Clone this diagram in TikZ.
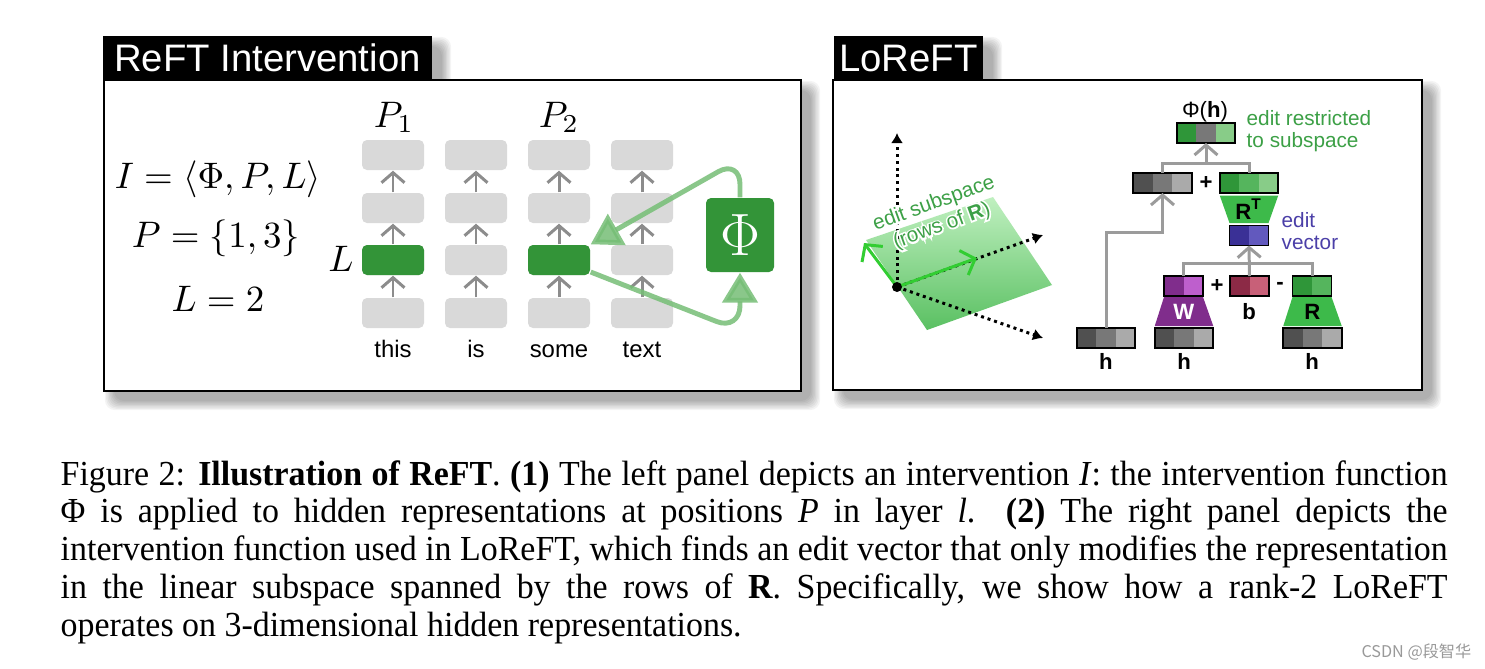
\documentclass[tikz,border=0pt]{standalone}
\usepackage{fix-cm}
\usepackage[no-math]{fontspec}
\setmainfont{Liberation Serif}
\newfontfamily\capfont[FakeStretch=0.965]{Liberation Serif}
\newfontfamily\panelfont{Liberation Sans}
\newfontfamily\cjkfont{Noto Sans CJK SC}
\usepackage{amsmath}
\usepackage{amssymb}
\usepackage{tikz}
\usetikzlibrary{arrows.meta,shapes,positioning,calc}
\usepackage{xcolor}
\definecolor{rfgreen}{RGB}{51,148,56}
\definecolor{rflight}{RGB}{217,217,217}
\definecolor{rfgray}{RGB}{140,140,140}
\definecolor{rffeed}{RGB}{118,190,118}
\definecolor{lrline}{RGB}{155,155,155}
\definecolor{lrdgreen}{RGB}{47,150,57}
\definecolor{lrmgreen}{RGB}{85,181,93}
\definecolor{lrlgreen}{RGB}{136,204,136}
\definecolor{lrbright}{RGB}{61,186,74}
\definecolor{lrdgray}{RGB}{80,80,80}
\definecolor{lrmgray}{RGB}{120,120,120}
\definecolor{lrlgray}{RGB}{170,170,170}
\definecolor{lrnavy}{RGB}{58,48,150}
\definecolor{lrblue}{RGB}{98,89,190}
\definecolor{lrpurple}{RGB}{128,45,140}
\definecolor{lrlilac}{RGB}{190,95,205}
\definecolor{lrwine}{RGB}{140,42,70}
\definecolor{lrpink}{RGB}{200,96,120}
\definecolor{lrtext}{RGB}{60,160,70}
\definecolor{lrindigo}{RGB}{75,63,168}
\definecolor{lrarrow}{RGB}{50,205,50}
\definecolor{planetop}{RGB}{192,240,192}
\definecolor{planebot}{RGB}{90,192,98}
\tikzstyle{titlebox} = [rectangle, fill=black, text=white, inner sep=0, minimum height=4.4mm, font=\panelfont\fontsize{10.9}{12}\selectfont]
\tikzstyle{panel} = [rectangle, draw=black, fill=white, line width=0.6pt, inner sep=0]
\tikzstyle{tokbox} = [rectangle, rounded corners=0.5mm, fill=rflight, minimum width=6.2mm, minimum height=3mm, inner sep=0]
\tikzstyle{hotbox} = [tokbox, fill=rfgreen]
\tikzstyle{uparrow} = [draw=rfgray, line width=0.85pt, -{Straight Barb[length=1mm,width=2.3mm]}]
\tikzstyle{feed} = [draw=rffeed, opacity=0.85, line width=1.4pt, rounded corners=2.5mm, -{Triangle[length=3mm,width=3.5mm]}]
\tikzstyle{mathlab} = [font=\fontsize{10.5}{12}\selectfont, inner sep=0, anchor=base]
\tikzstyle{word} = [font=\panelfont\fontsize{6.8}{8}\selectfont, inner sep=0, anchor=base]
\tikzstyle{phibox} = [rectangle, rounded corners=0.5mm, fill=rfgreen, minimum width=6.8mm, minimum height=7.4mm, text=white, font=\fontsize{17}{17}\selectfont]
\tikzstyle{hvec} = [rectangle, draw=black, line width=0.45pt, minimum height=2mm, inner sep=0, outer sep=0]
\tikzstyle{flow} = [draw=lrline, line width=0.85pt]
\tikzstyle{flowarrow} = [flow, -{Straight Barb[length=1mm,width=2.3mm]}]
\tikzstyle{vlab} = [font=\panelfont\bfseries\fontsize{6.3}{7}\selectfont, inner sep=0]
\tikzstyle{vtext} = [font=\panelfont\fontsize{6.3}{7}\selectfont, inner sep=0]
\tikzstyle{note} = [font=\panelfont\fontsize{5.9}{6.3}\selectfont, align=left, inner sep=0, anchor=west]
\tikzstyle{axisarrow} = [line width=0.85pt, dash pattern=on 0.85pt off 1.1pt, -{Latex[length=1mm,width=1.2mm]}]
\tikzstyle{spanarrow} = [draw=lrarrow, line width=0.85pt, -{Straight Barb[length=1.2mm,width=2.6mm]}]
\tikzstyle{caption} = [anchor=base west, text width=138.7mm, align=justify, inner sep=0, font=\capfont\fontsize{10}{10.8}\selectfont]
\tikzset{
  vec3/.style n args={3}{hvec, minimum width=5.85mm, path picture={
      \fill[#1] (path picture bounding box.south west) rectangle ++(1.95mm,2mm);
      \fill[#2] ([xshift=1.95mm]path picture bounding box.south west) rectangle ++(1.95mm,2mm);
      \fill[#3] ([xshift=3.9mm]path picture bounding box.south west) rectangle ++(1.95mm,2mm);}},
  vec2/.style 2 args={hvec, minimum width=3.9mm, path picture={
      \fill[#1] (path picture bounding box.south west) rectangle ++(1.95mm,2mm);
      \fill[#2] ([xshift=1.95mm]path picture bounding box.south west) rectangle ++(1.95mm,2mm);}}
}
% blurred shadow, corners given in picture units
\newcommand{\softshadow}[4]{%
  \foreach \e in {0,...,7}
    \fill[black, opacity=0.045, rounded corners=1mm] (#1+10-\e*1.3, #2+10-\e*1.3) rectangle (#3+10+\e*1.3, #4+10+\e*1.3);
}
% white outline round a text line
\newcommand{\halo}[1]{\rlap{\color{white}\addfontfeature{FakeBold=16}#1}#1}

\begin{document}
\begin{tikzpicture}[x=0.1mm, y=-0.1mm]
\fill[white] (0,0) rectangle (1485,668);
\useasboundingbox (0,0) rectangle (1485,668);

% shadows
\softshadow{104}{80}{801}{391}
\softshadow{833}{80}{1422}{390}
\softshadow{103}{36}{432}{80}
\softshadow{834}{36}{983}{80}

% panels and titles
\node[panel, minimum width=69.7mm, minimum height=31.1mm] (leftpanel) at (452.5,235.5) {};
\node[panel, minimum width=58.9mm, minimum height=31mm] (rightpanel) at (1127.5,235) {};
\node[titlebox, minimum width=32.9mm] (lefttitle) at (267.5,58) {ReFT Intervention};
\node[titlebox, minimum width=14.9mm] (righttitle) at (908.5,58) {LoReFT};

% ---- ReFT intervention ----
\node[mathlab] (eqI) at (218,188) {$I = \langle \Phi, P, L \rangle$};
\node[mathlab] (eqP) at (216,247) {$P = \{1, 3\}$};
\node[mathlab] (eqL) at (218,311) {$L = 2$};

% token columns
\foreach \x/\w [count=\i] in {393/this,476/is,559/some,642/text}{
  \foreach \y [count=\j] in {313,260,208,155}
    \node[tokbox] (t\i\j) at (\x,\y) {};
  \node[word] (w\i) at (\x,357) {\w};
}
\foreach \i in {1,...,4}
  \foreach \j/\k in {1/2,2/3,3/4}
    \draw[uparrow] (t\i\j.north) -- (t\i\k.south);
\node[hotbox] (hot1) at (t12) {};
\node[hotbox] (hot3) at (t32) {};

\node[mathlab] (p1) at (394,127) {$P_1$};
\node[mathlab] (p2) at (559,127) {$P_2$};
\node[mathlab] (lay) at (341,271) {$L$};

% intervention function
\node[phibox] (phi) at (740,235) {$\Phi$};
\coordinate (lowturn) at ($(phi.south)+(0,58)$);
\coordinate (highturn) at ($(phi.north)+(0,-38)$);
\draw[feed] ([yshift=-1.2mm]hot3.east) -- (lowturn) -- (phi.south);
\draw[feed] (phi.north) -- (highturn) -- (hot3.north east);

% ---- LoReFT ----
% subspace picture
\coordinate (org) at (897,287);
\coordinate (pa) at (866,240);
\coordinate (pb) at (993,197);
\coordinate (pc) at (1052,285);
\coordinate (pd) at (927,330);
\shade[top color=planetop, bottom color=planebot] (pa) -- (pb) -- (pc) -- (pd) -- cycle;
\coordinate (axup) at (897,133);
\coordinate (axright) at (1043,235);
\coordinate (axdown) at (1043,338);
\draw[axisarrow] (org) -- (axup);
\draw[axisarrow] (org) -- (axright);
\draw[axisarrow] (org) -- (axdown);
\coordinate (spanup) at (864,243);
\coordinate (spanright) at (977,258);
\draw[spanarrow] (org) -- (spanup);
\draw[spanarrow] (org) -- (spanright);
\node[circle, fill=black, inner sep=0, minimum size=1mm] (orgdot) at (org) {};
\node[font=\panelfont\fontsize{5.9}{6.7}\selectfont, text=lrtext, align=center, rotate=20, inner sep=0] (spanlab) at (938,215) {\halo{edit subspace}\\\halo{(rows of \textbf{R})}};

% vectors
\node[vec3={lrdgreen}{lrmgray}{lrlgreen}] (phih) at (1206,133) {};
\node[vtext, anchor=base] (phihlab) at (1205,117) {Φ(\textbf{h})};
\node[note, text=lrtext] (restrict) at (1246,131) {edit restricted\\to subspace};
\node[vec3={lrdgray}{lrmgray}{lrlgray}] (hsum) at (1162.5,183) {};
\node[vlab] (plus1) at (1206,183) {+};
\node[vec3={lrdgreen}{lrmgreen}{lrlgreen}] (rtout) at (1249,183) {};
\node[vec2={lrnavy}{lrblue}] (ev) at (1249,235.5) {};
\node[note, text=lrindigo] (evlab) at (1281,231) {edit\\vector};
\node[vec2={lrpurple}{lrlilac}] (wout) at (1183.5,286) {};
\node[vlab] (plus2) at (1217,286) {+};
\node[vec2={lrwine}{lrpink}] (bvec) at (1249.5,286) {};
\node[vlab] (minus) at (1280,286) {-};
\node[vec2={lrdgreen}{lrmgreen}] (rout) at (1312,286) {};
\node[vec3={lrdgray}{lrmgray}{lrlgray}] (hleft) at (1106,338) {};
\node[vec3={lrdgray}{lrmgray}{lrlgray}] (hmid) at (1184,338) {};
\node[vec3={lrdgray}{lrmgray}{lrlgray}] (hright) at (1312.5,338) {};
\node[vlab, anchor=base] (hlab1) at (1106,369) {h};
\node[vlab, anchor=base] (hlab2) at (1184,369) {h};
\node[vlab, anchor=base] (hlab3) at (1312,369) {h};
\node[vlab, anchor=base] (blab) at (1249,319) {b};

% projections
\fill[lrbright] ([yshift=-0.25mm]rtout.south west) -- ([yshift=-0.25mm]rtout.south east) -- ([yshift=0.25mm]ev.north east) -- ([yshift=0.25mm]ev.north west) -- cycle;
\node[vlab] (rtlab) at ($(rtout.south)!0.5!(ev.north)$) {R\textsuperscript{T}};
\fill[lrpurple] ([yshift=-0.1mm]wout.south west) -- ([yshift=-0.1mm]wout.south east) -- ([yshift=0.2mm]hmid.north east) -- ([yshift=0.2mm]hmid.north west) -- cycle;
\node[vlab, text=white] (wlab) at ($(wout.south)!0.5!(hmid.north)$) {W};
\fill[lrbright] ([yshift=-0.1mm]rout.south west) -- ([yshift=-0.1mm]rout.south east) -- ([yshift=0.2mm]hright.north east) -- ([yshift=0.2mm]hright.north west) -- cycle;
\node[vlab] (rlab) at ($(rout.south)!0.5!(hright.north)$) {R};

% connectors
\coordinate (jtop) at ($(phih.south)+(0,20)$);
\draw[flow] (hsum.north) |- (jtop) -| (rtout.north);
\draw[flowarrow] (jtop) -- (phih.south);
\draw[flowarrow] (hleft.north) -- ++(0,-96) -| (hsum.south);
\coordinate (jmid) at ($(ev.south)+(0,18)$);
\draw[flow] (wout.north) |- (jmid) -| (rout.north);
\draw[flowarrow] (bvec.north) -- (ev.south);

% caption
\node[caption] (caption) at (60,485) {\hyphenpenalty=10000 Figure 2: \textbf{Illustration of ReFT}. \textbf{(1)} The left panel depicts an intervention \textit{I}: the intervention function\linebreak
Φ is applied to hidden representations at positions \textit{P} in layer \textit{l}. \textbf{(2)} The right panel depicts the\linebreak
intervention function used in LoReFT, which finds an edit vector that only modifies the representation\linebreak
in the linear subspace spanned by the rows of \textbf{R}. Specifically, we show how a rank-2 LoReFT\linebreak
operates on 3-dimensional hidden representations.};
\node[font=\cjkfont\fontsize{4.6}{5}\selectfont, text=black!40, anchor=east, inner sep=0] (mark) at (1472,652) {CSDN @段智华};
\end{tikzpicture}
\end{document}
